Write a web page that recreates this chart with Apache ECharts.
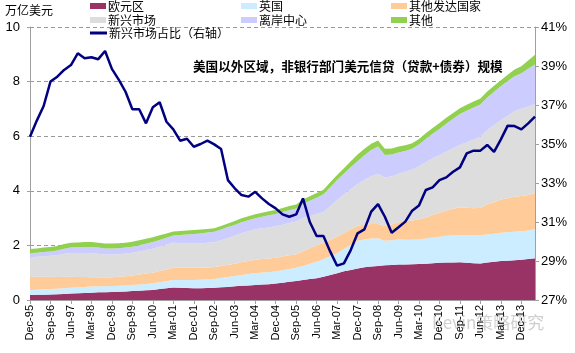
<!DOCTYPE html>
<html><head><meta charset="utf-8">
<script src="https://cdn.jsdelivr.net/npm/echarts@6/dist/echarts.min.js"></script>
<style>html,body{margin:0;padding:0;background:#fff;}#c{width:575px;height:353px;}</style>
</head><body><div id="c"></div>
<script>
// Quarterly dates Dec-95 .. Jun-14
const months = ['Mar','Jun','Sep','Dec'];
const categories = ['Dec-95'];
for (let y = 1996; y <= 2014; y++) {
  for (const m of months) {
    if (y === 2014 && (m === 'Sep' || m === 'Dec')) continue;
    categories.push(m + '-' + String(y % 100).padStart(2, '0'));
  }
}
// 万亿美元
const euroArea = [.18,.19,.19,.20,.21,.22,.24,.25,.26,.27,.28,.28,.29,.30,.31,.33,.34,.36,.37,.40,.43,.46,.45,.44,.43,.43,.44,.45,.47,.48,.50,.52,.53,.55,.57,.58,.60,.63,.67,.70,.73,.77,.80,.85,.92,.98,1.05,1.10,1.15,1.20,1.23,1.25,1.27,1.28,1.30,1.30,1.31,1.32,1.33,1.35,1.36,1.37,1.37,1.38,1.36,1.35,1.34,1.37,1.40,1.43,1.44,1.46,1.47,1.50,1.53];
const uk = [.19,.19,.20,.20,.20,.21,.21,.21,.22,.22,.22,.22,.22,.22,.22,.22,.23,.23,.24,.25,.26,.27,.28,.29,.30,.31,.31,.32,.34,.36,.38,.40,.42,.43,.44,.44,.45,.46,.47,.48,.52,.56,.60,.64,.68,.73,.82,.92,1.02,1.02,1.02,1.01,.90,.91,.92,.91,.90,.90,.92,.94,.96,.98,.99,1.00,1.02,1.03,1.04,1.03,1.03,1.03,1.04,1.04,1.05,1.05,1.06];
const otherDeveloped = [.48,.47,.46,.45,.43,.42,.40,.38,.36,.34,.33,.32,.32,.33,.34,.35,.36,.38,.39,.41,.43,.45,.45,.45,.45,.44,.44,.44,.44,.45,.45,.47,.48,.49,.49,.50,.50,.50,.50,.50,.54,.57,.60,.61,.61,.61,.59,.57,.55,.54,.53,.52,.54,.58,.63,.67,.70,.74,.77,.82,.88,.93,.98,1.02,1.00,.98,1.00,1.10,1.16,1.22,1.25,1.28,1.29,1.30,1.32];
const emerging = [.71,.73,.75,.77,.80,.84,.87,.88,.88,.88,.86,.85,.84,.83,.83,.83,.85,.86,.88,.89,.91,.92,.91,.90,.90,.90,.91,.91,.94,.98,1.02,1.06,1.09,1.12,1.13,1.14,1.15,1.17,1.18,1.20,1.21,1.18,1.15,1.12,1.22,1.34,1.40,1.47,1.53,1.64,1.75,1.84,1.78,1.76,1.77,1.82,1.87,1.94,2.03,2.08,2.10,2.16,2.22,2.28,2.40,2.52,2.60,2.72,2.82,2.90,3.02,3.14,3.20,3.24,3.27];
const offshore = [.15,.15,.16,.16,.17,.19,.20,.21,.22,.23,.23,.22,.22,.22,.22,.22,.23,.23,.24,.25,.25,.26,.29,.32,.34,.36,.37,.38,.39,.40,.40,.40,.40,.40,.42,.44,.45,.46,.47,.47,.52,.56,.60,.65,.70,.74,.77,.80,.83,.90,.96,1.00,.82,.80,.78,.76,.76,.80,.85,.90,.96,1.02,1.08,1.13,1.15,1.17,1.18,1.20,1.22,1.25,1.27,1.28,1.30,1.38,1.45];
const others = [.16,.16,.16,.16,.17,.17,.18,.18,.18,.18,.18,.18,.18,.18,.18,.18,.18,.18,.18,.17,.16,.15,.15,.15,.14,.14,.13,.13,.13,.13,.14,.14,.15,.15,.15,.15,.15,.15,.15,.15,.16,.16,.17,.17,.18,.18,.20,.22,.25,.24,.23,.22,.23,.22,.22,.21,.20,.20,.21,.21,.22,.22,.21,.21,.22,.22,.22,.22,.22,.22,.23,.24,.25,.30,.35];
// 新兴市场占比（右轴）, %
const emShare = [35.37,36.2,36.95,38.2,38.45,38.8,39.05,39.65,39.4,39.45,39.35,39.77,38.85,38.3,37.68,36.78,36.78,36.06,36.88,37.14,36.14,35.75,35.17,35.27,34.86,35.0,35.17,34.98,34.74,33.15,32.73,32.38,32.3,32.55,32.21,31.92,31.7,31.39,31.27,31.39,32.21,31.0,30.28,30.28,29.48,28.76,28.88,29.56,30.42,30.62,31.53,31.92,31.27,30.45,30.73,31.02,31.58,31.84,32.64,32.78,33.15,33.29,33.58,33.8,34.52,34.66,34.66,34.95,34.6,35.24,35.94,35.92,35.75,36.06,36.4];

const seriesNames = ['欧元区','英国','其他发达国家','新兴市场','离岸中心','其他'];
const seriesData = [euroArea, uk, otherDeveloped, emerging, offshore, others];
const seriesColors = ['#993366','#CCECFF','#FFCC99','#DDDDDD','#CCCCFF','#92D050'];
const lineName = '新兴市场占比（右轴）';

const FONT = "'Liberation Sans', Arial, 'Noto Sans CJK SC', sans-serif";
const CJK = "'Noto Sans CJK SC', sans-serif";

const legendPos = [[90,0],[241,0],[391,0],[90,14],[241,14],[391,14]];
const legends = seriesNames.map((n,k)=>({
  data:[n], left:legendPos[k][0], top:legendPos[k][1], padding:0,
  itemWidth:16, itemHeight:6, icon:'rect', itemGap:0,
  textStyle:{fontSize:12, color:'#000', fontFamily:CJK, padding:[0,0,0,-3]}
}));
legends.push({data:[lineName], left:90, top:27, padding:0, itemWidth:17, itemHeight:3, icon:'rect',
  textStyle:{fontSize:12, color:'#000', fontFamily:CJK, padding:[0,0,0,-3]}});

const chart = echarts.init(document.getElementById('c'), null, {renderer:'canvas'});
chart.setOption({
  animation:false,
  textStyle:{fontFamily:FONT},
  legend: legends,
  grid:{left:30, right:40, top:27, bottom:53},
  graphic:[
    {type:'text', left:5, top:4, style:{text:'万亿美元', font:"12px "+CJK, fill:'#000'}},
    {type:'text', left:193, top:60, style:{text:'美国以外区域，非银行部门美元信贷（贷款+债券）规模', font:"bold 12.6px "+CJK, fill:'#000'}},
    {type:'text', left:432, top:314, style:{text:'Kevin策略研究', font:"17px "+CJK, fill:'rgba(175,175,175,0.6)'}}
  ],
  xAxis:{type:'category', data:categories, boundaryGap:false,
    axisLine:{lineStyle:{color:'#a0a0a0', width:1}},
    axisTick:{interval:2, length:4, lineStyle:{color:'#a0a0a0'}},
    axisLabel:{interval:2, rotate:90, fontSize:11, color:'#000', margin:5}},
  yAxis:[
    {type:'value', min:0, max:10, interval:2,
     axisLine:{show:true, lineStyle:{color:'#a0a0a0'}},
     axisTick:{show:true, length:3, lineStyle:{color:'#a0a0a0'}},
     axisLabel:{fontSize:13, color:'#000', margin:10},
     splitLine:{show:true, lineStyle:{color:'#999', type:[4,3], width:1}}},
    {type:'value', min:27, max:41, interval:2, position:'right',
     axisLine:{show:true, lineStyle:{color:'#a0a0a0'}},
     axisTick:{show:true, length:4, lineStyle:{color:'#a0a0a0'}},
     axisLabel:{fontSize:13, color:'#000', margin:6, formatter:'{value}%'},
     splitLine:{show:false}}
  ],
  series: seriesNames.map((n,k)=>({
    name:n, type:'line', stack:'total', data:seriesData[k], symbol:'none',
    lineStyle:{width:0}, itemStyle:{color:seriesColors[k]},
    areaStyle:{color:seriesColors[k], opacity:1}
  })).concat([{
    name:lineName, type:'line', yAxisIndex:1, data:emShare, symbol:'none',
    itemStyle:{color:'#000080'}, lineStyle:{color:'#000080', width:2.5}, z:5
  }])
});
</script></body></html>
